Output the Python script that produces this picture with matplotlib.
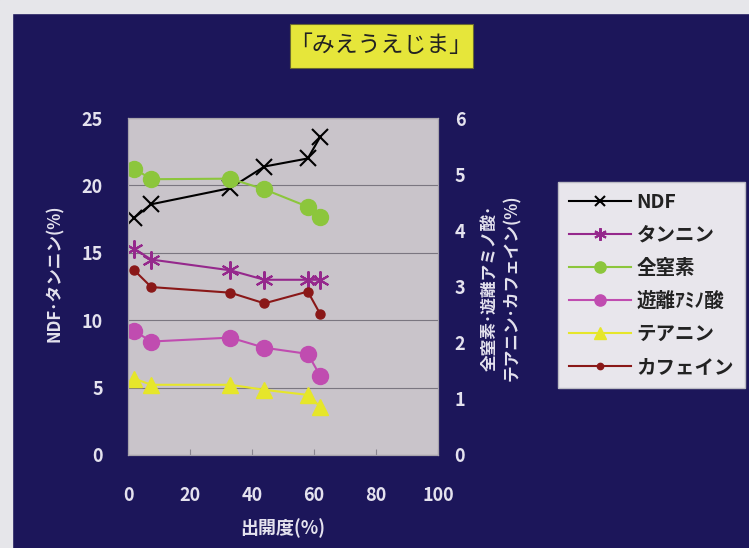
import matplotlib
matplotlib.use("Agg")
import matplotlib.pyplot as plt
from matplotlib.patches import Rectangle

plt.rcParams['font.family'] = ['Noto Sans CJK JP', 'DejaVu Sans']

# data
x = [2, 7.5, 33, 44, 58, 62]
ndf = [17.6, 18.6, 19.8, 21.4, 22.0, 23.6]
tannin = [15.3, 14.5, 13.7, 13.0, 13.0, 13.0]
total_n = [5.10, 4.91, 4.92, 4.73, 4.42, 4.23]
amino = [2.21, 2.02, 2.09, 1.91, 1.80, 1.41]
theanine = [1.36, 1.25, 1.25, 1.16, 1.07, 0.86]
caffeine = [3.29, 2.99, 2.89, 2.70, 2.91, 2.51]

navy = '#1c165a'
txt = '#e4e2ee'
edge = '#e6e6ea'
W, H = 749, 548

fig = plt.figure(figsize=(7.49, 5.48), dpi=100, facecolor=navy)
# light strips on the left and top edges of the slide
fig.patches.append(Rectangle((0, 0), 12/W, 1, transform=fig.transFigure, color=edge))
fig.patches.append(Rectangle((0, 1 - 13/H), 1, 13/H, transform=fig.transFigure, color=edge))
# yellow title box
fig.patches.append(Rectangle((290/W, 1 - 68/H), 183/W, 44/H, transform=fig.transFigure,
                             fc='#e6e63a', ec='#6a6a30', lw=0.8))

ax = fig.add_axes([128/W, 1 - 455/H, 310/W, 337/H])
ax.set_facecolor('#c9c4ca')
ax2 = ax.twinx()

l1, = ax.plot(x, ndf, color='black', lw=1.5, marker='x', ms=11, mew=1.5, label='NDF')
l2, = ax.plot(x, tannin, color='#95288c', lw=1.5, marker=(6, 2, 0), ms=13, mew=1.5, label='タンニン')
l3, = ax2.plot(x, total_n, color='#8cc63c', lw=1.5, marker='o', ms=11.5, label='全窒素')
l4, = ax2.plot(x, amino, color='#c04cb0', lw=1.5, marker='o', ms=11.5, label='遊離ｱﾐﾉ酸')
l5, = ax2.plot(x, theanine, color='#e6e62a', lw=1.5, marker='^', ms=11.5, label='テアニン')
l6, = ax2.plot(x, caffeine, color='#8a1818', lw=1.5, marker='o', ms=6.5, label='カフェイン')

ax.set_xlim(0, 100)
ax.set_ylim(0, 25)
ax2.set_ylim(0, 6)
ax.set_xticks(range(0, 101, 20))
ax.set_yticks(range(0, 26, 5))
ax2.set_yticks(range(0, 7))
ax.grid(axis='y', color='#7a7680', lw=0.8)
ax.set_axisbelow(True)

for a in (ax, ax2):
    for s in a.spines.values():
        s.set_color('#a8a4ac')
ax.tick_params(axis='x', direction='in', length=4, color='#8a8690', pad=22,
               labelsize=13, labelcolor=txt)
ax.tick_params(axis='y', length=0, pad=18, labelsize=13, labelcolor=txt)
ax2.tick_params(axis='y', length=0, pad=12, labelsize=13, labelcolor=txt)
for t in ax.get_xticklabels() + ax.get_yticklabels() + ax2.get_yticklabels():
    t.set_fontweight('bold')

fig.text(283/W, 1 - 528/H, '出開度(%)', color=txt, fontsize=13, fontweight='bold',
         ha='center', va='center')
fig.text(55/W, 1 - 273/H, 'NDF･タンニン(%)', color=txt, fontsize=12, fontweight='bold',
         rotation=90, ha='center', va='center')
fig.text(501/W, 1 - 288/H, '全窒素･遊離アミノ酸･\nテアニン･カフェイン(%)', color=txt,
         fontsize=12, fontweight='bold', rotation=90, ha='center', va='center',
         linespacing=1.25)

fig.text(381/W, 1 - 46/H, '「みえうえじま」', color='#222222', fontsize=16.5,
         ha='center', va='center')

leg = fig.legend(handles=[l1, l2, l3, l4, l5, l6], loc='upper left',
                 bbox_to_anchor=(558/W, 1 - 182/H), borderaxespad=0, handlelength=3.2,
                 labelspacing=0.72, handletextpad=0.3, borderpad=0.55, markerscale=0.7,
                 frameon=True, fancybox=False, framealpha=1,
                 prop={'size': 14, 'weight': 'bold'})
leg.get_frame().set_facecolor('#e8e6ec')
leg.get_frame().set_edgecolor('#bbbbc4')
for t in leg.get_texts():
    t.set_color('#222222')

fig.savefig('out.png', dpi=100, facecolor=fig.get_facecolor())
